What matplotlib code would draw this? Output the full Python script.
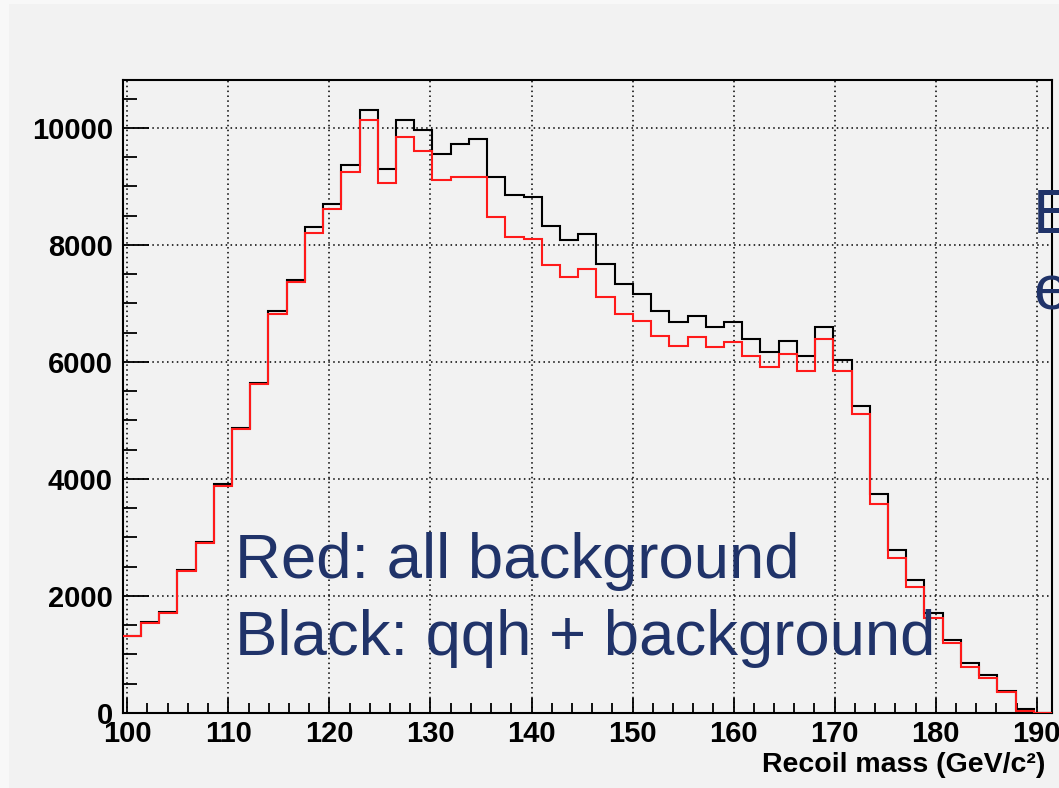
import matplotlib
matplotlib.use("Agg")
import matplotlib.pyplot as plt
import numpy as np
from matplotlib.ticker import MultipleLocator
from matplotlib.patches import Rectangle

plt.rcParams['font.family'] = ['Liberation Sans', 'DejaVu Sans']

# recoil mass histogram, 51 bins
X_LO, X_HI, N_BINS = 99.55, 191.5, 51

# qqh + background (black)
black_counts = [1320, 1560, 1731, 2440, 2915, 3908, 4876, 5645, 6876, 7400,
                8300, 8699, 9360, 10300, 9303, 10129, 9958, 9561, 9730, 9817,
                9162, 8849, 8820, 8330, 8080, 8194, 7681, 7339, 7162, 6877,
                6679, 6792, 6593, 6679, 6393, 6166, 6364, 6108, 6593, 6040,
                5253, 3738, 2786, 2273, 1704, 1248, 849, 650, 382, 68, 0]

# all background (red)
red_counts = [1316, 1533, 1704, 2432, 2911, 3874, 4848, 5617, 6819, 7360,
              8209, 8619, 9240, 10129, 9058, 9844, 9600, 9106, 9160, 9160,
              8478, 8137, 8108, 7658, 7448, 7585, 7106, 6820, 6706, 6450,
              6279, 6422, 6251, 6337, 6108, 5909, 6137, 5851, 6393, 5851,
              5111, 3567, 2644, 2159, 1619, 1202, 792, 593, 365, 40, 0]

x_ticks = [100, 110, 120, 130, 140, 150, 160, 170, 180, 190]
y_ticks = [0, 2000, 4000, 6000, 8000, 10000]
Y_MAX = 10820

edges = np.linspace(X_LO, X_HI, N_BINS + 1)

W, H = 1059, 788
fig = plt.figure(figsize=(W / 100, H / 100), dpi=100)
fig.patch.set_facecolor('#f8f8f8')
fig.patches.append(Rectangle((9 / W, 0), 1, 1 - 4 / H, transform=fig.transFigure,
                             facecolor='#f2f2f2', edgecolor='none', zorder=-5))

ax = fig.add_axes([122.7 / W, 1 - 713 / H, (1052 - 122.7) / W, (713 - 80) / H])
ax.set_facecolor('#f2f2f2')

ax.stairs(black_counts, edges, baseline=None, color='black', linewidth=1.5, zorder=3)
ax.stairs(red_counts, edges, baseline=None, color='#ff1a1a', linewidth=1.5, zorder=4)

ax.set_xlim(X_LO, X_HI)
ax.set_ylim(0, Y_MAX)
ax.set_xticks(x_ticks)
ax.set_yticks(y_ticks)
ax.xaxis.set_minor_locator(MultipleLocator(2))
ax.yaxis.set_minor_locator(MultipleLocator(500))

ax.grid(True, which='major', color='black', linestyle=(0, (1, 2.2)), linewidth=1.1)
ax.set_axisbelow(True)

for s in ax.spines.values():
    s.set_linewidth(1.5)

ax.tick_params(axis='x', which='major', direction='in', length=11, width=1.3,
               labelsize=21, pad=5, top=False)
ax.tick_params(axis='x', which='minor', direction='in', length=7, width=1.3, top=False)
ax.tick_params(axis='y', which='major', direction='in', length=19, width=1.3,
               labelsize=21, pad=7, right=False)
ax.tick_params(axis='y', which='minor', direction='in', length=10, width=1.3, right=False)
for lab in ax.get_xticklabels() + ax.get_yticklabels():
    lab.set_fontweight('bold')

ax.set_xlabel('Recoil mass (GeV/c²)', fontsize=20.5, fontweight='bold', ha='right', va='top')
ax.xaxis.set_label_coords(0.9925, -0.061)

navy = '#203369'
fig.text(235 / W, 1 - 578 / H, 'Red: all background', color=navy, fontsize=45.7, va='baseline')
fig.text(235 / W, 1 - 655 / H, 'Black: qqh + background', color=navy, fontsize=45.7, va='baseline')
fig.text(1033 / W, 1 - 233 / H, 'E', color=navy, fontsize=45.7, va='baseline')
fig.text(1033 / W, 1 - 310 / H, 'e', color=navy, fontsize=45.7, va='baseline')

fig.savefig('out.png', dpi=100, facecolor=fig.get_facecolor())
